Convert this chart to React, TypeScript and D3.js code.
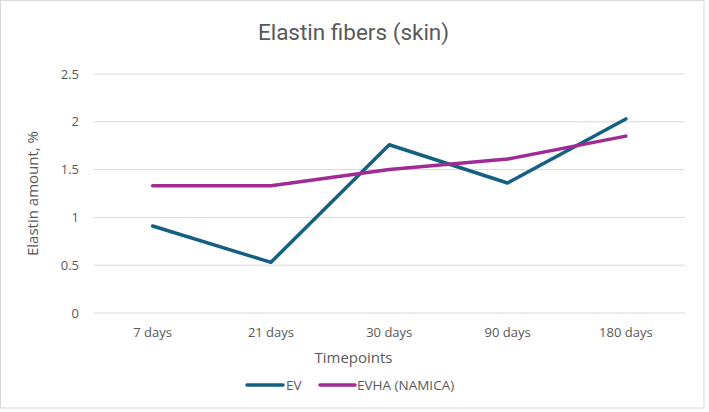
import React from 'react'
import * as d3 from 'd3'

const timepoints = ['7 days', '21 days', '30 days', '90 days', '180 days']
const evValues = [0.91, 0.53, 1.76, 1.36, 2.03]
const evhaValues = [1.33, 1.33, 1.5, 1.61, 1.85]
const yTicks = [0, 0.5, 1, 1.5, 2, 2.5]

const series = [
  { name: 'EV', values: evValues, color: '#156082' },
  { name: 'EVHA (NAMICA)', values: evhaValues, color: '#A02B93' },
]

const width = 709
const height = 412
const margin = { top: 74, right: 24, bottom: 99, left: 93.5 }
const textColor = '#595959'
const font = 'Open Sans, sans-serif'

export default function App() {
  const xScale = d3.scaleBand()
    .domain(timepoints)
    .range([margin.left, width - margin.right])

  const yScale = d3.scaleLinear()
    .domain([0, 2.5])
    .range([height - margin.bottom, margin.top])

  const line = d3.line<number>()
    .x((d, i) => (xScale(timepoints[i]) as number) + xScale.bandwidth() / 2)
    .y(d => yScale(d))

  return (
    <div style={{ position: 'absolute', left: 0, top: 0 }}>
      <svg width={width} height={height} style={{ display: 'block' }}>
        <rect x={0.5} y={0.5} width={703.5} height={407.5} fill="#fff" stroke="#D9D9D9" />
        <text x={width / 2 - 1} y={40} textAnchor="middle" fontFamily="Roboto, sans-serif" fontSize={22.5} fill={textColor}>
          Elastin fibers (skin)
        </text>

        <g id="grid">
          {yTicks.map(t => (
            <line key={t} x1={margin.left} x2={width - margin.right} y1={yScale(t)} y2={yScale(t)} stroke="#D9D9D9" strokeWidth={1} />
          ))}
        </g>

        <g id="y-axis">
          {yTicks.map(t => (
            <text key={t} x={79} y={yScale(t)} dy="0.35em" textAnchor="end" fontFamily={font} fontSize={13} fill={textColor}>
              {t}
            </text>
          ))}
        </g>

        <g id="x-axis">
          {timepoints.map(c => (
            <text key={c} x={(xScale(c) as number) + xScale.bandwidth() / 2} y={337} textAnchor="middle" fontFamily={font} fontSize={13} fill={textColor}>
              {c}
            </text>
          ))}
        </g>

        <text x={width / 2 - 1} y={363} textAnchor="middle" fontFamily={font} fontSize={15} fill={textColor}>
          Timepoints
        </text>
        <text transform={`translate(38, ${(margin.top + height - margin.bottom) / 2}) rotate(-90)`} textAnchor="middle" fontFamily={font} fontSize={15} fill={textColor}>
          Elastin amount, %
        </text>

        <g id="lines">
          {series.map(s => (
            <path key={s.name} d={line(s.values) || ''} fill="none" stroke={s.color} strokeWidth={3.5} strokeLinejoin="round" strokeLinecap="round" />
          ))}
        </g>

        <g id="legend">
          <line x1={247} x2={283} y1={385} y2={385} stroke={series[0].color} strokeWidth={3.5} strokeLinecap="round" />
          <text x={286} y={385} dy="0.35em" fontFamily={font} fontSize={13.5} fill={textColor}>{series[0].name}</text>
          <line x1={320} x2={355} y1={385} y2={385} stroke={series[1].color} strokeWidth={3.5} strokeLinecap="round" />
          <text x={357} y={385} dy="0.35em" fontFamily={font} fontSize={13.5} fill={textColor}>{series[1].name}</text>
        </g>
      </svg>
    </div>
  )
}
